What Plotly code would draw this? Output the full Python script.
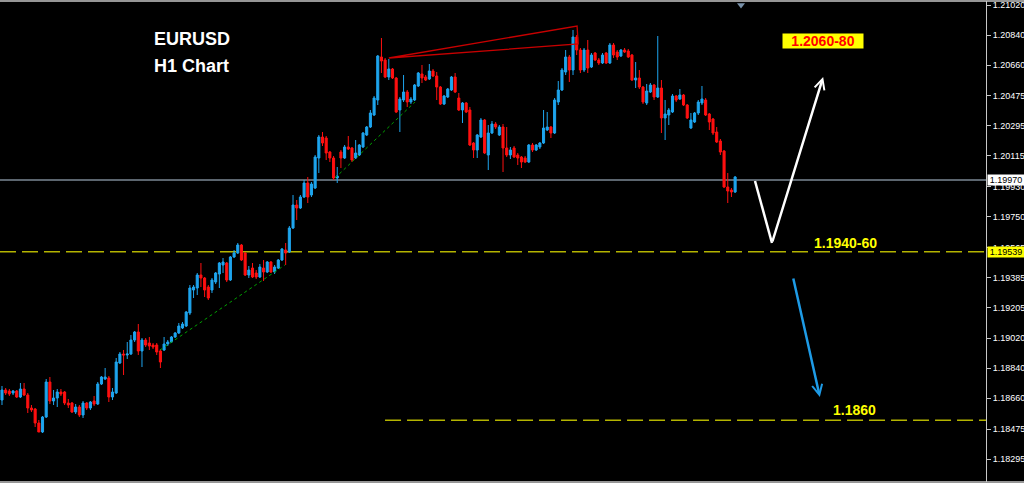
import plotly.graph_objects as go

# ---------------- data (EURUSD, H1) ----------------
open_ = [1.18650,1.18710,1.18704,1.18692,1.18704,1.18668,1.18716,1.18680,1.18602,1.18596,
1.18512,1.18458,1.18548,1.18758,1.18644,1.18662,1.18698,1.18698,1.18632,1.18632,
1.18578,1.18608,1.18560,1.18632,1.18602,1.18644,1.18626,1.18746,1.18776,1.18782,
1.18668,1.18692,1.18872,1.18926,1.18920,1.18926,1.19010,1.19058,1.18944,1.19010,
1.18992,1.18980,1.18980,1.18944,1.18950,1.18986,1.18998,1.19028,1.19052,1.19082,
1.19094,1.19172,1.19310,1.19322,1.19400,1.19382,1.19328,1.19310,1.19358,1.19406,
1.19460,1.19472,1.19370,1.19508,1.19532,1.19580,1.19532,1.19400,1.19442,1.19412,
1.19388,1.19442,1.19418,1.19478,1.19418,1.19442,1.19490,1.19550,1.19538,1.19682,
1.19820,1.19802,1.19868,1.19952,1.19880,1.19922,1.20102,1.20228,1.20222,1.20138,
1.20102,1.19982,1.20138,1.20102,1.20168,1.20162,1.20102,1.20120,1.20168,1.20240,
1.20288,1.20360,1.20450,1.20708,1.20690,1.20588,1.20636,1.20582,1.20390,1.20450,
1.20498,1.20438,1.20450,1.20534,1.20606,1.20588,1.20576,1.20624,1.20594,1.20528,
1.20426,1.20468,1.20510,1.20588,1.20462,1.20390,1.20432,1.20390,1.20192,1.20150,
1.20228,1.20330,1.20120,1.20252,1.20306,1.20240,1.20288,1.20162,1.20120,1.20162,
1.20120,1.20108,1.20102,1.20078,1.20180,1.20150,1.20168,1.20192,1.20270,1.20288,
1.20252,1.20438,1.20510,1.20618,1.20708,1.20630,1.20828,1.20750,1.20630,1.20750,
1.20648,1.20732,1.20690,1.20672,1.20732,1.20672,1.20780,1.20738,1.20714,1.20750,
1.20744,1.20720,1.20570,1.20582,1.20528,1.20432,1.20498,1.20540,1.20468,1.20522,
1.20342,1.20360,1.20378,1.20474,1.20456,1.20480,1.20420,1.20282,1.20318,1.20372,
1.20432,1.20450,1.20366,1.20336,1.20258,1.20204,1.20144,1.19928,1.19910,1.19898]

high = [1.18734,1.18722,1.18716,1.18710,1.18710,1.18752,1.18752,1.18692,1.18620,1.18602,
1.18530,1.18554,1.18776,1.18788,1.18710,1.18716,1.18716,1.18704,1.18656,1.18638,
1.18626,1.18620,1.18644,1.18638,1.18644,1.18674,1.18758,1.18794,1.18842,1.18794,
1.18722,1.18902,1.18938,1.18950,1.18998,1.19040,1.19064,1.19106,1.19022,1.19022,
1.19028,1.18992,1.18992,1.18956,1.19028,1.19010,1.19034,1.19058,1.19112,1.19118,
1.19184,1.19340,1.19340,1.19412,1.19472,1.19388,1.19340,1.19382,1.19418,1.19478,
1.19502,1.19478,1.19514,1.19550,1.19592,1.19586,1.19538,1.19454,1.19472,1.19430,
1.19466,1.19490,1.19484,1.19484,1.19460,1.19496,1.19562,1.19592,1.19694,1.19880,
1.19850,1.19880,1.19970,1.19988,1.19958,1.20120,1.20240,1.20258,1.20234,1.20144,
1.20114,1.20048,1.20150,1.20180,1.20234,1.20168,1.20210,1.20186,1.20258,1.20294,
1.20390,1.20474,1.20720,1.20822,1.20702,1.20696,1.20642,1.20588,1.20468,1.20600,
1.20510,1.20468,1.20546,1.20618,1.20660,1.20600,1.20666,1.20636,1.20618,1.20534,
1.20480,1.20522,1.20594,1.20612,1.20492,1.20438,1.20438,1.20408,1.20198,1.20246,
1.20342,1.20336,1.20300,1.20324,1.20318,1.20300,1.20306,1.20288,1.20168,1.20174,
1.20132,1.20114,1.20114,1.20186,1.20192,1.20186,1.20198,1.20390,1.20378,1.20294,
1.20462,1.20564,1.20642,1.20750,1.20720,1.20870,1.20840,1.20762,1.20762,1.20810,
1.20732,1.20738,1.20702,1.20732,1.20738,1.20792,1.20792,1.20750,1.20756,1.20762,
1.20756,1.20726,1.20678,1.20630,1.20534,1.20546,1.20552,1.20546,1.20834,1.20570,
1.20450,1.20402,1.20486,1.20480,1.20516,1.20486,1.20426,1.20372,1.20378,1.20450,
1.20534,1.20462,1.20372,1.20342,1.20288,1.20216,1.20150,1.20012,1.19922,1.19994]

low = [1.18620,1.18680,1.18674,1.18680,1.18662,1.18662,1.18674,1.18572,1.18578,1.18488,
1.18458,1.18452,1.18542,1.18626,1.18620,1.18608,1.18674,1.18620,1.18602,1.18572,
1.18566,1.18548,1.18542,1.18590,1.18590,1.18614,1.18620,1.18740,1.18770,1.18638,
1.18650,1.18686,1.18866,1.18800,1.18896,1.18920,1.18998,1.18920,1.18848,1.18968,
1.18950,1.18956,1.18920,1.18842,1.18944,1.18974,1.18992,1.19022,1.19046,1.19076,
1.19088,1.19160,1.19262,1.19280,1.19328,1.19268,1.19250,1.19292,1.19346,1.19322,
1.19412,1.19358,1.19364,1.19502,1.19526,1.19484,1.19394,1.19382,1.19382,1.19376,
1.19382,1.19364,1.19412,1.19412,1.19406,1.19436,1.19484,1.19460,1.19532,1.19676,
1.19730,1.19796,1.19862,1.19832,1.19868,1.19916,1.20012,1.20174,1.20090,1.20078,
1.19970,1.19952,1.20042,1.20096,1.20150,1.20078,1.20096,1.20114,1.20162,1.20234,
1.20282,1.20354,1.20420,1.20612,1.20582,1.20570,1.20576,1.20372,1.20258,1.20438,
1.20408,1.20426,1.20444,1.20528,1.20552,1.20564,1.20570,1.20588,1.20450,1.20420,
1.20420,1.20462,1.20504,1.20492,1.20384,1.20312,1.20372,1.20174,1.20102,1.20102,
1.20222,1.20126,1.20030,1.20246,1.20276,1.20234,1.20018,1.20108,1.20096,1.20102,
1.20060,1.20042,1.20072,1.20072,1.20138,1.20144,1.20156,1.20186,1.20264,1.20222,
1.20246,1.20420,1.20504,1.20600,1.20558,1.20600,1.20720,1.20612,1.20618,1.20612,
1.20642,1.20684,1.20660,1.20666,1.20666,1.20666,1.20702,1.20690,1.20708,1.20732,
1.20702,1.20564,1.20522,1.20516,1.20426,1.20420,1.20492,1.20450,1.20462,1.20252,
1.20210,1.20300,1.20372,1.20438,1.20450,1.20414,1.20336,1.20276,1.20312,1.20360,
1.20420,1.20354,1.20270,1.20240,1.20192,1.20120,1.19922,1.19832,1.19868,1.19892]

close = [1.18710,1.18692,1.18686,1.18704,1.18668,1.18716,1.18680,1.18602,1.18590,1.18512,
1.18458,1.18548,1.18758,1.18644,1.18662,1.18698,1.18686,1.18632,1.18620,1.18578,
1.18608,1.18560,1.18632,1.18602,1.18638,1.18626,1.18746,1.18788,1.18788,1.18668,
1.18698,1.18878,1.18926,1.18920,1.18926,1.19010,1.19058,1.18944,1.19010,1.18980,
1.18974,1.18968,1.18938,1.18878,1.18986,1.18998,1.19028,1.19052,1.19094,1.19106,
1.19178,1.19322,1.19328,1.19400,1.19382,1.19310,1.19262,1.19370,1.19412,1.19472,
1.19478,1.19370,1.19508,1.19532,1.19580,1.19490,1.19400,1.19430,1.19388,1.19388,
1.19448,1.19418,1.19478,1.19418,1.19448,1.19490,1.19556,1.19532,1.19682,1.19820,
1.19802,1.19868,1.19952,1.19868,1.19946,1.20108,1.20228,1.20192,1.20132,1.20102,
1.19982,1.19994,1.20102,1.20168,1.20156,1.20090,1.20132,1.20180,1.20252,1.20288,
1.20372,1.20462,1.20714,1.20684,1.20588,1.20636,1.20582,1.20378,1.20456,1.20498,
1.20438,1.20456,1.20540,1.20612,1.20582,1.20570,1.20624,1.20594,1.20528,1.20426,
1.20474,1.20516,1.20588,1.20498,1.20390,1.20432,1.20378,1.20180,1.20150,1.20240,
1.20330,1.20132,1.20252,1.20306,1.20288,1.20288,1.20162,1.20120,1.20150,1.20108,
1.20102,1.20078,1.20078,1.20180,1.20150,1.20180,1.20192,1.20282,1.20288,1.20252,
1.20450,1.20510,1.20630,1.20708,1.20630,1.20828,1.20750,1.20630,1.20750,1.20642,
1.20720,1.20690,1.20672,1.20720,1.20672,1.20780,1.20720,1.20708,1.20750,1.20738,
1.20708,1.20570,1.20582,1.20528,1.20438,1.20504,1.20540,1.20468,1.20522,1.20342,
1.20366,1.20390,1.20474,1.20450,1.20480,1.20420,1.20342,1.20330,1.20372,1.20438,
1.20456,1.20360,1.20318,1.20252,1.20198,1.20138,1.19928,1.19904,1.19898,1.19988]

bars = list(range(len(close)))

tick_vals = [1.21020, 1.20840, 1.20660, 1.20475, 1.20295, 1.20115, 1.19930, 1.19750,
             1.19565, 1.19385, 1.19205, 1.19020, 1.18840, 1.18660, 1.18475, 1.18295]
tick_text = ["%.5f" % v for v in tick_vals]

current_price = 1.19970
support_level = 1.19539
target_level = 1.18529

# drawn objects (bar index, price)
green_trend1_x = [42.9, 76.8]
green_trend1_y = [1.18950, 1.19460]
green_trend2_x = [90.4, 112.1]
green_trend2_y = [1.19982, 1.20438]
red_wedge_x = [105.0, 156.1, 156.4, 105.0]
red_wedge_y = [1.20702, 1.20894, 1.20786, 1.20702]
white_leg_x = [204.4, 209.0]
white_leg_y = [1.19964, 1.19592]
white_arrow_tip = (222.9, 1.20588)
blue_arrow_tail = (214.7, 1.19388)
blue_arrow_tip = (222.0, 1.18668)
shift_marker = (200.6, 1.21020)

UP = "#1ea5ee"
DN = "#ff1010"
FONT = "Liberation Sans, Arial, sans-serif"
FRAME = "#c8c8c8"

fig = go.Figure()
fig.add_trace(go.Candlestick(
    x=bars, open=open_, high=high, low=low, close=close,
    increasing=dict(line=dict(color=UP, width=1), fillcolor=UP),
    decreasing=dict(line=dict(color=DN, width=1), fillcolor=DN),
    whiskerwidth=0, hoverinfo="skip", showlegend=False))

fig.add_trace(go.Scatter(x=green_trend1_x, y=green_trend1_y, mode="lines",
    line=dict(color="#00a000", width=1, dash="3px,3px"), hoverinfo="skip", showlegend=False))
fig.add_trace(go.Scatter(x=green_trend2_x, y=green_trend2_y, mode="lines",
    line=dict(color="#00a000", width=1, dash="3px,3px"), hoverinfo="skip", showlegend=False))
fig.add_trace(go.Scatter(x=red_wedge_x, y=red_wedge_y, mode="lines",
    line=dict(color="#c80000", width=1.3), hoverinfo="skip", showlegend=False))
fig.add_trace(go.Scatter(x=white_leg_x, y=white_leg_y, mode="lines",
    line=dict(color="#ffffff", width=2.5), hoverinfo="skip", showlegend=False))
fig.add_trace(go.Scatter(x=[shift_marker[0]], y=[shift_marker[1]], mode="markers",
    marker=dict(symbol="triangle-down", size=7, color="#7890a8"), hoverinfo="skip",
    showlegend=False, cliponaxis=False))

shapes = [
    dict(type="line", xref="paper", x0=0, x1=1, yref="y", y0=current_price, y1=current_price,
         line=dict(color="#7b8894", width=1.5), layer="below"),
    dict(type="line", xref="paper", x0=0, x1=1, yref="y", y0=support_level, y1=support_level,
         line=dict(color="#b4b400", width=1.5, dash="16px,6px"), layer="below"),
    dict(type="line", xref="paper", x0=0.3905, x1=1, yref="y", y0=target_level, y1=target_level,
         line=dict(color="#b4b400", width=1.5, dash="16px,6px"), layer="below"),
    # chart frame (top and bottom edges run across the price scale too)
    dict(type="line", xref="paper", x0=0, x1=1.05, yref="paper", y0=1, y1=1,
         line=dict(color=FRAME, width=1.5)),
    dict(type="line", xref="paper", x0=0, x1=1.05, yref="paper", y0=0, y1=0,
         line=dict(color=FRAME, width=1.5)),
]

annotations = [
    dict(x=0.1947, y=0.920, xref="paper", yref="paper", text="<b>EURUSD</b>", showarrow=False,
         xanchor="center", yanchor="middle",
         font=dict(family=FONT, size=18, color="#ffffff")),
    dict(x=0.1947, y=0.864, xref="paper", yref="paper", text="<b>H1 Chart</b>", showarrow=False,
         xanchor="center", yanchor="middle",
         font=dict(family=FONT, size=18, color="#ffffff")),
    dict(x=0.835, y=0.917, xref="paper", yref="paper", text="<b>1.2060-80</b>", showarrow=False,
         xanchor="center", yanchor="middle",
         bgcolor="#ffff00", width=80, height=14, borderpad=0,
         font=dict(family=FONT, size=14, color="#ff0000")),
    dict(x=0.858, y=0.497, xref="paper", yref="paper", text="<b>1.1940-60</b>", showarrow=False,
         xanchor="center", yanchor="middle",
         font=dict(family=FONT, size=14, color="#ffff00")),
    dict(x=0.867, y=0.150, xref="paper", yref="paper", text="<b>1.1860</b>", showarrow=False,
         xanchor="center", yanchor="middle",
         font=dict(family=FONT, size=14, color="#ffff00")),
    # arrows
    dict(x=white_arrow_tip[0], y=white_arrow_tip[1], xref="x", yref="y",
         ax=white_leg_x[1], ay=white_leg_y[1], axref="x", ayref="y", text="",
         showarrow=True, arrowhead=5, arrowsize=0.8, arrowwidth=2.5, arrowcolor="#ffffff"),
    dict(x=blue_arrow_tip[0], y=blue_arrow_tip[1], xref="x", yref="y",
         ax=blue_arrow_tail[0], ay=blue_arrow_tail[1], axref="x", ayref="y", text="",
         showarrow=True, arrowhead=5, arrowsize=0.8, arrowwidth=2.5, arrowcolor="#1e9be6"),
    # price badges on axis
    dict(x=1, y=current_price, xref="paper", yref="y", text="1.19970", showarrow=False,
         xanchor="left", yanchor="middle", xshift=1, bgcolor="#ffffff", borderpad=0,
         width=36, height=10, font=dict(family=FONT, size=9, color="#000000")),
    dict(x=1, y=support_level, xref="paper", yref="y", text="1.19539", showarrow=False,
         xanchor="left", yanchor="middle", xshift=1, bgcolor="#ffff00", borderpad=0,
         width=36, height=10, font=dict(family=FONT, size=9, color="#000000")),
]

fig.update_layout(
    width=1024, height=483,
    margin=dict(l=0, r=38, t=1, b=1),
    paper_bgcolor="#000000", plot_bgcolor="#000000",
    showlegend=False, boxgap=0.2,
    shapes=shapes, annotations=annotations,
    xaxis=dict(range=[-0.54, 267.1], showgrid=False, zeroline=False, showticklabels=False,
               ticks="", showline=False, rangeslider=dict(visible=False), fixedrange=True),
    yaxis=dict(range=[1.18158, 1.21044], side="right", showgrid=False, zeroline=False,
               tickvals=tick_vals, ticktext=tick_text, ticks="outside", ticklen=4,
               tickcolor=FRAME, showline=True, linecolor=FRAME, linewidth=1,
               tickfont=dict(family=FONT, size=9, color="#ffffff"), fixedrange=True,
               automargin=False),
)

fig.write_html("out.html", config=dict(displayModeBar=False),
               post_script="document.body.style.margin='0px';document.body.style.overflow='hidden';")
